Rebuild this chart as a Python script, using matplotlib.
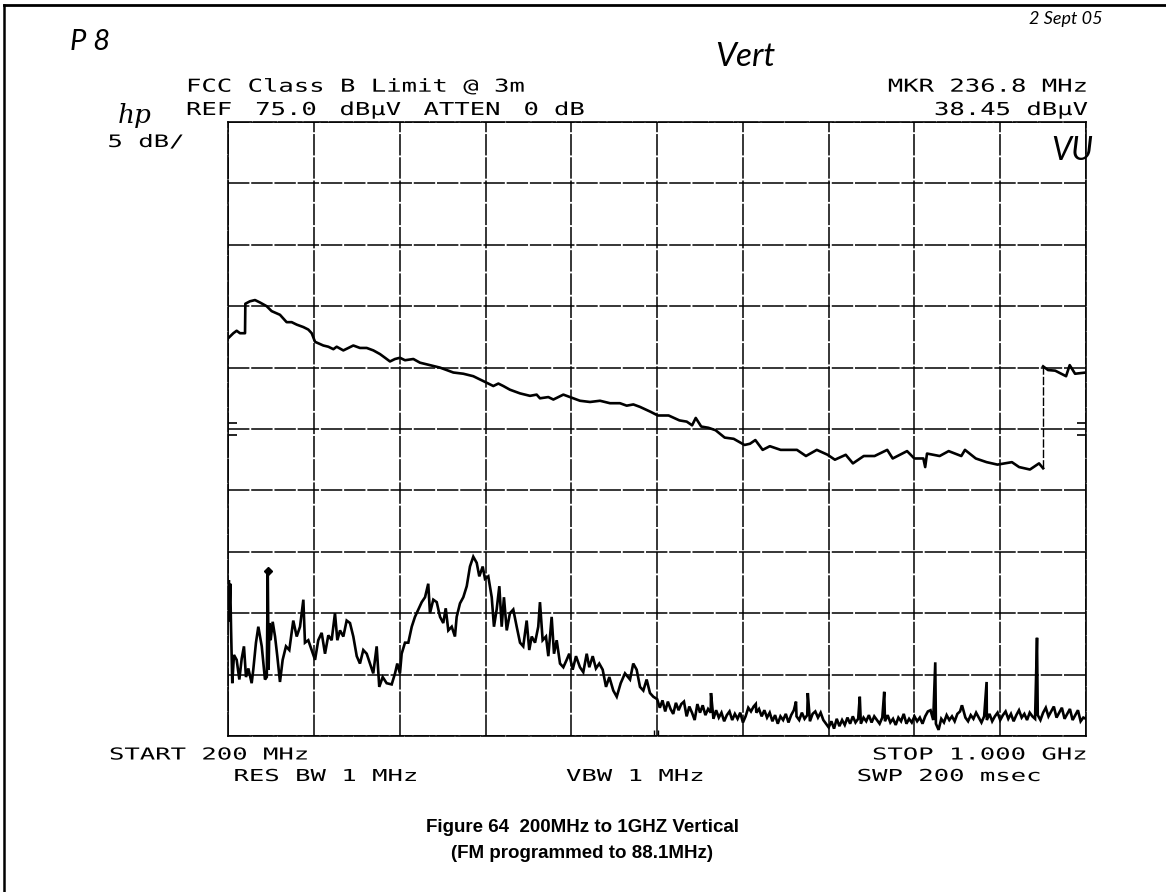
import numpy as np
import matplotlib
matplotlib.use("Agg")
import matplotlib.pyplot as plt
from matplotlib.patheffects import AbstractPathEffect
from matplotlib.transforms import Affine2D

# Spectrum analyser plot, 200 MHz - 1 GHz, vertical antenna
# Values in MHz / dBuV

# Limit line (FCC class B @ 3m with antenna factors), up to 960 MHz
limit_f = [200.0, 204.7, 207.8, 210.9, 215.6, 215.9, 220.2, 224.9, 229.6, 235.8,
           240.4, 248.2, 254.4, 259.1, 263.8, 270.0, 274.6, 277.8, 280.9, 288.6,
           293.3, 298.0, 301.1, 307.3, 312.0, 316.6, 322.8, 329.1, 335.3, 341.5,
           346.2, 350.8, 355.5, 360.1, 364.8, 372.6, 378.8, 388.1, 397.4, 403.7,
           409.9, 419.2, 428.5, 437.9, 447.2, 451.9, 456.5, 462.7, 472.1, 481.4,
           487.6, 490.7, 498.5, 503.2, 512.5, 518.7, 528.0, 537.4, 546.7, 556.0,
           565.3, 571.6, 577.8, 584.0, 593.9, 600.6, 610.7, 620.8, 627.6, 632.6,
           636.0, 641.1, 647.8, 654.5, 663.0, 671.4, 681.5, 686.6, 691.6, 698.4,
           705.1, 715.2, 722.0, 730.4, 738.8, 748.9, 759.0, 765.8, 775.9, 782.6,
           792.7, 802.8, 814.6, 819.7, 833.1, 839.9, 848.3, 850.0, 851.7, 863.5,
           871.9, 883.7, 887.1, 897.2, 907.3, 917.4, 930.9, 937.6, 947.7, 956.2,
           960.0]
limit_db = [57.4, 57.8, 58.0, 57.8, 57.8, 60.2, 60.4, 60.5, 60.3, 60.0,
            59.6, 59.3, 58.7, 58.7, 58.5, 58.3, 58.1, 57.8, 57.1, 56.8,
            56.7, 56.5, 56.7, 56.4, 56.6, 56.8, 56.6, 56.6, 56.4, 56.1,
            55.8, 55.5, 55.7, 55.8, 55.6, 55.7, 55.4, 55.2, 55.0, 54.8,
            54.6, 54.5, 54.3, 53.9, 53.5, 53.7, 53.5, 53.2, 52.9, 52.7,
            52.8, 52.5, 52.6, 52.4, 52.8, 52.6, 52.3, 52.2, 52.3, 52.1,
            52.1, 51.9, 52.0, 51.8, 51.4, 51.1, 51.1, 50.7, 50.6, 50.3,
            50.9, 50.2, 50.1, 49.9, 49.3, 49.2, 48.7, 48.8, 49.1, 48.3,
            48.6, 48.3, 48.3, 48.3, 47.8, 48.3, 47.9, 47.5, 47.9, 47.2,
            47.8, 47.8, 48.3, 47.6, 48.2, 47.6, 47.6, 46.9, 48.0, 47.8,
            48.2, 47.8, 48.3, 47.6, 47.3, 47.1, 47.3, 46.9, 46.7, 47.2,
            46.8]

# Limit line above 960 MHz
limit_hi_f = [960.0, 964.6, 971.3, 981.4, 984.8, 989.8, 1000.0]
limit_hi_db = [55.1, 54.8, 54.75, 54.3, 55.2, 54.5, 54.6]

# Measured sweep 200 - 600 MHz
sweep_f = [200.0, 200.5, 201.0, 201.8, 202.6, 203.7, 205.3, 207.8, 210.3, 212.5,
           214.6, 216.5, 218.7, 221.8, 223.3, 225.8, 228.0, 231.2, 234.2, 235.9,
           236.8, 237.6, 238.4, 239.5, 241.4, 243.6, 245.7, 248.2, 250.7, 253.8,
           256.9, 260.6, 263.8, 266.9, 270.0, 271.5, 274.6, 277.8, 280.9, 283.9,
           287.1, 290.2, 293.3, 296.4, 299.5, 301.7, 304.2, 307.3, 310.4, 313.5,
           316.6, 319.8, 322.8, 325.9, 329.1, 332.2, 335.2, 338.4, 340.8, 344.0,
           347.7, 352.4, 355.5, 357.6, 360.1, 361.7, 364.8, 367.9, 371.1, 374.1,
           377.2, 380.4, 383.5, 386.5, 388.1, 391.2, 394.4, 397.5, 400.5, 402.8,
           405.2, 408.4, 411.4, 413.0, 416.1, 419.2, 422.4, 425.4, 428.5, 431.7,
           434.1, 437.3, 439.4, 442.5, 445.7, 447.8, 450.3, 452.8, 455.0, 457.1,
           459.7, 462.7, 465.8, 469.0, 472.1, 475.1, 478.3, 480.7, 483.0, 486.1,
           489.1, 490.7, 493.2, 496.3, 498.5, 501.6, 503.8, 506.3, 509.4, 512.5,
           515.6, 518.0, 521.2, 524.3, 528.0, 531.1, 534.3, 536.7, 539.9, 542.9,
           546.0, 549.2, 552.3, 555.4, 559.1, 562.3, 566.0, 570.0, 574.7, 577.7,
           580.9, 584.0, 587.1, 590.2, 593.3, 596.4]
sweep_db = [34.4, 37.7, 35.0, 37.4, 33.6, 29.3, 31.6, 31.2, 29.6, 31.3,
            32.3, 29.8, 30.5, 29.3, 30.4, 32.6, 33.9, 32.3, 29.6, 29.8,
            38.45, 30.4, 34.2, 32.8, 34.3, 33.1, 31.5, 29.4, 31.2, 32.3,
            32.0, 34.4, 33.1, 33.9, 36.1, 32.6, 32.8, 32.0, 31.2, 32.8,
            33.4, 31.7, 33.2, 32.8, 35.0, 32.8, 33.6, 33.1, 34.4, 34.2,
            33.1, 31.5, 30.9, 32.0, 31.7, 30.9, 30.1, 32.3, 29.0, 29.8,
            29.3, 29.2, 30.1, 30.9, 30.1, 31.7, 32.6, 32.6, 33.9, 34.7,
            35.3, 35.9, 36.3, 37.4, 35.0, 36.1, 35.9, 34.7, 34.2, 35.4,
            33.6, 33.9, 33.1, 34.7, 35.8, 36.3, 37.2, 38.8, 39.6, 39.1,
            38.0, 38.8, 37.8, 38.0, 36.3, 33.9, 35.3, 37.2, 33.9, 36.3,
            33.6, 35.0, 35.3, 33.9, 32.6, 32.3, 34.4, 32.0, 33.1, 32.6,
            33.9, 35.9, 32.8, 33.1, 31.5, 34.7, 31.7, 32.8, 30.9, 30.6,
            31.2, 31.7, 30.4, 31.5, 30.6, 30.2, 31.7, 30.6, 31.5, 30.5,
            30.9, 30.4, 29.0, 29.8, 28.7, 28.2, 29.3, 30.1, 29.6, 30.9,
            30.4, 29.0, 28.7, 29.6, 28.5, 28.2]

# Noise floor 600 - 1000 MHz, read every 2.5 MHz
floor_f = np.arange(600.0, 1000.1, 2.5)
floor_db = [28.0, 27.3, 27.9, 27.0, 27.8, 27.2, 26.8, 27.7, 27.1, 27.6,
            27.8, 26.6, 27.4, 26.9, 26.3, 27.6, 26.9, 27.5, 26.7, 27.2,
            26.9, 26.4, 27.1, 26.5, 26.9, 26.2, 26.7, 27.0, 26.3, 26.8,
            26.4, 26.9, 26.1, 26.6, 27.3, 27.0, 27.4, 26.9, 27.2, 26.6,
            27.1, 26.5, 26.9, 26.2, 26.7, 26.0, 26.6, 26.3, 26.8, 26.1,
            26.7, 27.1, 26.6, 26.3, 26.9, 26.4, 26.7, 26.2, 26.8, 27.0,
            26.5, 26.9, 26.3, 26.0, 25.7, 26.2, 25.6, 26.4, 25.8, 26.3,
            25.9, 26.5, 26.0, 26.6, 26.1, 26.4, 26.0, 26.5, 26.2, 26.7,
            26.1, 26.6, 26.3, 26.0, 26.5, 26.2, 26.7, 26.1, 26.4, 25.9,
            26.5, 26.2, 26.8, 26.0, 26.4, 26.1, 26.6, 26.2, 26.5, 26.0,
            26.6, 27.0, 27.1, 26.3, 26.0, 25.5, 26.4, 26.1, 26.7, 26.3,
            26.6, 26.2, 26.8, 27.0, 27.3, 26.5, 26.2, 26.7, 26.4, 26.9,
            26.5, 26.1, 26.6, 26.3, 26.8, 26.2, 26.6, 26.9, 26.3, 26.7,
            27.0, 26.4, 26.8, 26.2, 26.7, 27.1, 26.5, 26.8, 26.3, 26.9,
            26.6, 26.4, 26.7, 26.3, 26.9, 27.3, 26.6, 27.0, 27.4, 26.5,
            26.9, 27.3, 26.4, 26.8, 27.2, 26.3, 26.7, 27.1, 26.2, 26.5,
            26.4]

# Narrow spurs on the noise floor
spur_f = [650.2, 692.0, 729.5, 740.5, 789.0, 811.8, 859.4, 884.3, 907.3, 954.3]
spur_db = [28.5, 27.6, 27.8, 28.5, 28.2, 28.6, 31.0, 27.5, 29.4, 33.0]

# Marker readout
mkr_f = 236.8
mkr_db = 38.45

W, H = 1166, 892


class Stretch(AbstractPathEffect):
    # widen glyphs horizontally about the text's left edge
    def __init__(self, sx):
        super().__init__()
        self._sx = sx

    def draw_path(self, renderer, gc, tpath, affine, rgbFace=None):
        renderer.draw_path(gc, tpath, Affine2D().scale(self._sx, 1.0) + affine, rgbFace)


def px(x, y):
    # pixel position (top-left origin) -> figure fraction
    return x / W, 1 - y / H


def plotter_text(x, y, s, pitch=15.4, cap=13.0):
    # wide fixed-pitch lettering like the analyser's plotter font
    em = cap / 0.729
    sx = pitch / (0.602 * em)
    fig.text(*px(x, y), s, ha="left", va="baseline", fontsize=em * 0.72,
             family="DejaVu Sans Mono", color="black", path_effects=[Stretch(sx)])


fig = plt.figure(figsize=(W / 100, H / 100), dpi=100)
fig.patch.set_facecolor("white")

# page frame (left and top edges)
fig.add_artist(plt.Line2D([3.5 / W, 3.5 / W], [0, 1 - 5 / H], color="black", lw=1.8))
fig.add_artist(plt.Line2D([3.5 / W, 1], [1 - 5 / H, 1 - 5 / H], color="black", lw=2.0))

x0, y0 = px(228.3, 736)
x1, y1 = px(1086, 122)
ax = fig.add_axes([x0, y0, x1 - x0, y1 - y0])
ax.set_xlim(200, 1000)
ax.set_ylim(25, 75)
ax.set_xticks(np.arange(200, 1001, 80))
ax.set_yticks(np.arange(25, 76, 5))
ax.tick_params(length=0, labelbottom=False, labelleft=False)
ax.grid(True, color="black", lw=1.1, ls=(0, (14, 1.2)))
for sp in ax.spines.values():
    sp.set_linewidth(1.2)
    sp.set_linestyle((0, (14, 1.2)))

# limit line
ax.plot(limit_f, limit_db, color="black", lw=1.9, solid_joinstyle="round")
ax.plot(limit_hi_f, limit_hi_db, color="black", lw=1.9, solid_joinstyle="round")
ax.vlines(960.0, limit_db[-1], limit_hi_db[0], color="black", lw=1.0, ls=(0, (6, 1.5)))

# measured trace
trace_f = np.concatenate([sweep_f, floor_f, spur_f])
trace_db = np.concatenate([sweep_db, floor_db, spur_db])
order = np.argsort(trace_f, kind="stable")
ax.plot(trace_f[order], trace_db[order], color="black", lw=1.9, solid_joinstyle="miter")

# marker
ax.plot(mkr_f, mkr_db, marker="D", ms=4.5, color="black")

# display line ticks on both edges
for lvl in (50.45, 49.5):
    ax.hlines(lvl, 200, 208, color="black", lw=1.2)
    ax.hlines(lvl, 992, 1000, color="black", lw=1.2)
ax.vlines([597.5, 600.5], 25, 25.45, color="black", lw=1.0)

# analyser annotations
plotter_text(186, 91.7, "FCC Class B Limit @ 3m")
plotter_text(186, 115, "REF")
plotter_text(255.2, 115, "75.0")
plotter_text(339.5, 115, "dBµV")
plotter_text(423.5, 115, "ATTEN")
plotter_text(523.5, 115, "0")
plotter_text(554, 115, "dB")
plotter_text(887.8, 91.7, "MKR 236.8 MHz")
plotter_text(934, 115, "38.45 dBµV")
plotter_text(107.5, 147, "5 dB/", cap=12.5)

plotter_text(109, 759.5, "START 200 MHz", cap=12)
plotter_text(872, 759.5, "STOP 1.000 GHz", cap=12)
plotter_text(233.5, 781, "RES BW 1 MHz", cap=12)
plotter_text(566, 781, "VBW 1 MHz", cap=12)
plotter_text(856.7, 781, "SWP 200 msec", cap=12)

# hp logo
fig.text(*px(135, 123), "hp", ha="center", va="baseline", fontsize=19,
         style="italic", family="DejaVu Serif", color="black")

# handwritten notes
hand = dict(family="Lato", style="italic", weight="normal", color="black")
fig.text(*px(90, 50), "P 8", ha="center", va="baseline", fontsize=21, **hand)
fig.text(*px(1066, 24), "2 Sept 05", ha="center", va="baseline", fontsize=13, **hand)
fig.text(*px(745, 66), "Vert", ha="center", va="baseline", fontsize=24, **hand)
fig.text(*px(1072, 160), "VU", ha="center", va="baseline", fontsize=23, **hand)

# caption
cap = dict(ha="center", va="center", fontsize=13.5, weight="bold",
           family="Liberation Sans", color="black")
fig.text(*px(582, 828), "Figure 64  200MHz to 1GHZ Vertical", **cap)
fig.text(*px(582, 854), "(FM programmed to 88.1MHz)", **cap)

fig.savefig("out.png", dpi=100, facecolor="white")
